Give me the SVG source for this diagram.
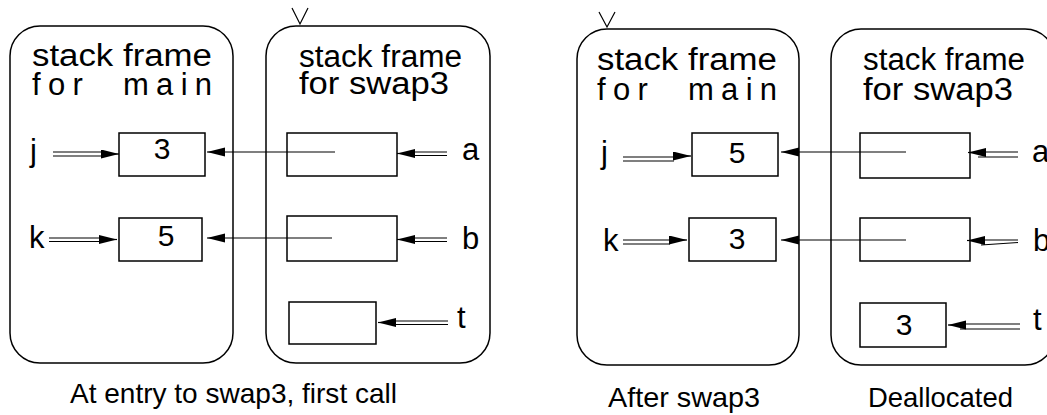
<svg xmlns="http://www.w3.org/2000/svg" width="1047" height="415" viewBox="0 0 1047 415">
<style>
  text { font-family: "Liberation Sans", Arial, sans-serif; fill: #000; }
  .frame { fill: none; stroke: #000; stroke-width: 1.5; }
  .box { fill: none; stroke: #000; stroke-width: 1.5; }
  .title { font-size: 31px; }
  .var { font-size: 31px; }
  .val { font-size: 30px; text-anchor: middle; }
  .cap { font-size: 28px; }
  .conn path { fill: none; stroke: #000; stroke-width: 1.2; }
  .mark { fill: none; stroke: #000; stroke-width: 1.2; }
</style>
<defs>
  <marker id="ah" markerUnits="userSpaceOnUse" markerWidth="19" markerHeight="10" refX="18" refY="4.5" orient="auto">
    <path d="M0,0 L18,4.5 L0,9 z" fill="#000"/>
  </marker>
</defs>
<rect width="1047" height="415" fill="#fff"/>

<!-- LEFT PANEL -->
<g id="main-frame-1">
  <rect class="frame" x="10" y="26" width="223" height="337" rx="30" ry="30"/>
  <text class="title" x="32" y="66" textLength="180" lengthAdjust="spacingAndGlyphs">stack frame</text>
  <text class="title" x="32" y="95" letter-spacing="7.3" word-spacing="17">for main</text>
</g>
<g id="swap3-frame-1">
  <rect class="frame" x="266" y="26" width="224" height="337" rx="30" ry="30"/>
  <polyline class="mark" points="292,8 300,24 308,8"/>
  <text class="title" x="299" y="66.5" textLength="163" lengthAdjust="spacingAndGlyphs">stack frame</text>
  <text class="title" x="299" y="93.5" textLength="150" lengthAdjust="spacingAndGlyphs">for swap3</text>
</g>
<g id="j-1">
  <text class="var" x="30" y="161">j</text>
  <rect class="box" x="119" y="133" width="86" height="43"/>
  <text class="val" x="162" y="158.5">3</text>
</g>
<g id="k-1">
  <text class="var" x="29" y="248">k</text>
  <rect class="box" x="119" y="218" width="83" height="43"/>
  <text class="val" x="166" y="245.5">5</text>
</g>
<g id="a-1">
  <rect class="box" x="287" y="133" width="110" height="43"/>
  <text class="var" x="462" y="160">a</text>
</g>
<g id="b-1">
  <rect class="box" x="287" y="216" width="110" height="45"/>
  <text class="var" x="462" y="249">b</text>
</g>
<g id="t-1">
  <rect class="box" x="289" y="302" width="87" height="42"/>
  <text class="var" x="457" y="328">t</text>
</g>
<text id="caption-1" class="cap" x="70" y="403" textLength="327" lengthAdjust="spacingAndGlyphs">At entry to swap3, first call</text>

<!-- RIGHT PANEL -->
<g id="main-frame-2">
  <rect class="frame" x="577" y="29" width="222" height="336" rx="30" ry="30"/>
  <polyline class="mark" points="599,12 607,27 615,12"/>
  <text class="title" x="597" y="70" textLength="180" lengthAdjust="spacingAndGlyphs">stack frame</text>
  <text class="title" x="597" y="100" letter-spacing="7.3" word-spacing="17">for main</text>
</g>
<g id="swap3-frame-2">
  <rect class="frame" x="831" y="29" width="224" height="336" rx="30" ry="30"/>
  <text class="title" x="863" y="70" textLength="162" lengthAdjust="spacingAndGlyphs">stack frame</text>
  <text class="title" x="863" y="100" textLength="150" lengthAdjust="spacingAndGlyphs">for swap3</text>
</g>
<g id="j-2">
  <text class="var" x="601" y="163">j</text>
  <rect class="box" x="692" y="133" width="86" height="43"/>
  <text class="val" x="737" y="163">5</text>
</g>
<g id="k-2">
  <text class="var" x="603" y="251">k</text>
  <rect class="box" x="689" y="218" width="87" height="43"/>
  <text class="val" x="737" y="248.5">3</text>
</g>
<g id="a-2">
  <rect class="box" x="860" y="133" width="110" height="45"/>
  <text class="var" x="1032" y="162">a</text>
</g>
<g id="b-2">
  <rect class="box" x="860" y="218" width="110" height="43"/>
  <text class="var" x="1033" y="251">b</text>
</g>
<g id="t-2">
  <rect class="box" x="860" y="303" width="86" height="44"/>
  <text class="val" x="904" y="334.5">3</text>
  <text class="var" x="1033" y="330">t</text>
</g>
<text id="caption-2" class="cap" x="608" y="407" textLength="152" lengthAdjust="spacingAndGlyphs">After swap3</text>
<text id="caption-3" class="cap" x="868" y="407" textLength="145" lengthAdjust="spacingAndGlyphs">Deallocated</text>

<g id="connectors" class="conn">
  <!-- left panel -->
  <path d="M53,152 H102 M53,156 H102"/>
  <path d="M101,154 H119" marker-end="url(#ah)"/>
  <path d="M335,152 H207" marker-end="url(#ah)"/>
  <path d="M447,152 H412 M447,155.5 H412"/>
  <path d="M414,153.5 H397" marker-end="url(#ah)"/>
  <path d="M49,238 H100 M49,241.5 H100"/>
  <path d="M99,239.5 H117" marker-end="url(#ah)"/>
  <path d="M332,238 H207" marker-end="url(#ah)"/>
  <path d="M447,238 H412 M447,241.5 H412"/>
  <path d="M414,239.5 H397" marker-end="url(#ah)"/>
  <path d="M448,321 H393 M448,324.5 H393"/>
  <path d="M395,322.5 H378" marker-end="url(#ah)"/>
  <!-- right panel -->
  <path d="M623,157 H674 M623,161 H674"/>
  <path d="M673,156 H691" marker-end="url(#ah)"/>
  <path d="M906,152 H781" marker-end="url(#ah)"/>
  <path d="M978,152 H1018 M978,157 H1018"/>
  <path d="M986,152.5 H968" marker-end="url(#ah)"/>
  <path d="M623,240 H670 M623,244 H670"/>
  <path d="M669,240 H687" marker-end="url(#ah)"/>
  <path d="M906,240 H781" marker-end="url(#ah)"/>
  <path d="M985,240 H1018 M981,245 L1018,242.5"/>
  <path d="M985,240.5 H967" marker-end="url(#ah)"/>
  <path d="M960,324 H1020 M960,329 H1020"/>
  <path d="M966,325 H948" marker-end="url(#ah)"/>
</g>
</svg>
